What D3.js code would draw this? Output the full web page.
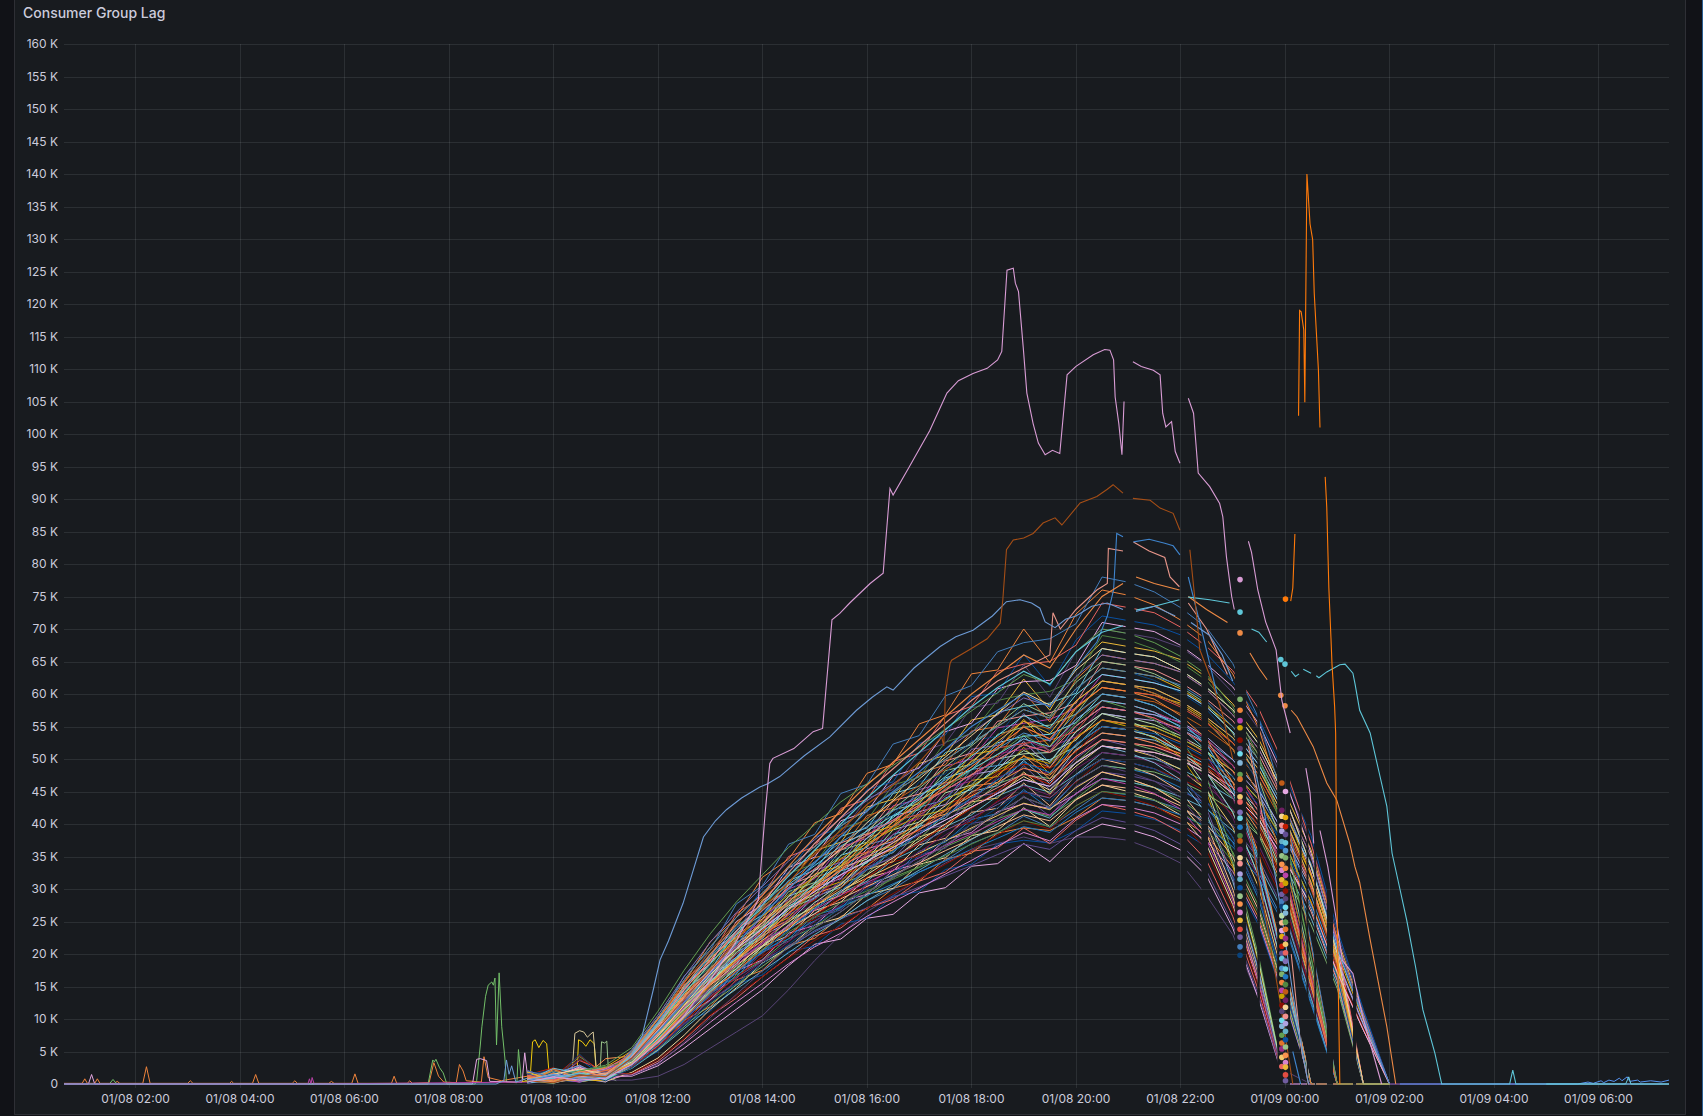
<!DOCTYPE html>
<html><head><meta charset="utf-8">
<script src="https://cdn.jsdelivr.net/npm/d3@7"></script>
<style>
html,body{margin:0;padding:0;background:#111217;}
svg{display:block;}
</style></head><body>
<svg id="chart" width="1703" height="1116"></svg>
<script>
// ---------------- DATA (values in thousands, time in hours since 01/08 00:00) ----------------
const title = "Consumer Group Lag";
const timeDomain = [0.632, 31.35];
const xTickHours = [2,4,6,8,10,12,14,16,18,20,22,24,26,28,30];
const xTickLabels = ["01/08 02:00","01/08 04:00","01/08 06:00","01/08 08:00","01/08 10:00","01/08 12:00","01/08 14:00","01/08 16:00","01/08 18:00","01/08 20:00","01/08 22:00","01/09 00:00","01/09 02:00","01/09 04:00","01/09 06:00"];
const yTickValues = [0,5,10,15,20,25,30,35,40,45,50,55,60,65,70,75,80,85,90,95,100,105,110,115,120,125,130,135,140,145,150,155,160];
const yTickLabels = ["0","5 K","10 K","15 K","20 K","25 K","30 K","35 K","40 K","45 K","50 K","55 K","60 K","65 K","70 K","75 K","80 K","85 K","90 K","95 K","100 K","105 K","110 K","115 K","120 K","125 K","130 K","135 K","140 K","145 K","150 K","155 K","160 K"];

// periods with no samples for the consumer-group bundle
const gapIntervals = [[20.95,21.12],[22.0,22.13],[22.4,22.53],[23.04,23.26],[23.47,23.52],[23.85,24.1],[24.28,24.32],[24.41,24.45],[24.56,24.6],[24.8,24.92],[25.3,25.37]];

const bundleTimes = [9.5,10,10.5,11,11.5,12,12.5,13,13.5,14,14.5,15,15.5,16,16.5,17,17.5,18,18.5,19,19.5,20,20.5,21,21.5,22,22.5,23,23.5,24,24.5,25,25.5,26];
const bundleSeries = [
[0.2,0.8,1.5,0.6,0.6,1.2,3,5.5,8,10.5,14.5,19,23,26.5,29,31.5,34,36,37,38,37,38,38,37.5,36,34,29,23,13,2,0,0,0,0],
[0.5,1.9,0.7,1.2,1.2,2.8,5.5,8.5,11.5,14.5,18.2,21.5,22.3,25.5,26.1,29.4,30.2,33.5,33.9,37,34.2,38.1,40,39.2,38,36,32,24,13,0,0,0,0,0],
[1.1,0.3,3.8,0.9,3,5,9.4,11.2,15.3,16.8,20.4,21.2,24.6,25.5,28.9,29.6,33,33.8,36.9,37.5,37.1,39,42,41.6,40.7,39,36.5,32,24.4,12.6,0,0,0,0],
[0.1,1.4,0.5,1.8,1.5,3.5,6.8,10.5,13.2,16.5,19.5,22.8,24,27.1,28.4,31.2,32.6,35.8,36.3,39.4,37,40.6,43,42.1,40.9,38.7,34.4,25.8,14.2,0,0,0,0,0],
[0.8,0.2,1.6,2.3,3.1,5.2,9.8,11.9,16,17.5,21.3,22.4,25.8,26.9,30.1,31.2,34.6,35.5,38.6,39.4,39,41,44,43.6,42.7,40.9,38.3,33.4,25.5,13.2,0,0,0,0],
[1.5,0.6,0.4,1.0,2.7,6.1,9.2,13,15.4,18.6,20.9,23.6,25.4,28.2,30,32.6,34.4,37,38.6,41.2,39.5,42.2,45,44.5,43.6,42.3,40.5,37.3,32.4,24.7,12.6,0,0,0],
[0.3,2.1,1.2,0.4,1.8,4,7.5,11.5,14.8,18.6,21,24.5,25.6,29.2,30.1,33.8,34.8,38.2,39,42.5,39.6,43.8,46,45,43.7,41.4,36.8,27.6,15.2,0,0,0,0,0],
[0.9,0.5,4.2,1.5,3.2,5.9,10.3,12.8,16.8,19,22.4,24.1,27.2,28.9,31.8,33.4,36.5,38.2,40.8,42.2,41.2,43.9,47,46.5,45.6,43.7,40.9,35.7,27.3,14.1,0,0,0,0],
[0.2,1.1,0.8,2.0,2.6,6.6,9.6,13.9,16.2,20.3,22,25.6,26.8,30.4,31.6,35.2,36.3,40.1,40.7,44.3,41.2,45.8,48,47.5,46.6,45.1,43.2,39.8,34.6,26.4,13.4,0,0,0],
[1.3,0.4,1.9,0.8,3.3,5.8,10.6,12.9,17.4,19.1,23.2,24.4,28,29.2,32.9,33.9,37.6,38.7,41.9,43.1,42.4,44.6,48,47,45.6,43.2,38.4,28.8,15.8,0,0,0,0,0],
[0.6,1.7,0.3,1.1,2.8,6.8,9.9,14.2,16.5,20.6,22.3,26,27.1,30.8,32,35.8,37.2,40.7,41.6,45.3,42.3,46.6,49,48.5,47.5,45.6,42.6,37.2,28.4,14.7,0,0,0,0],
[0.4,0.9,3.9,1.6,3.4,6.2,11,13.5,18.1,19.9,24.2,25.3,29.3,30.2,34.2,35.1,39.2,40.3,43.6,44.8,44.1,46.4,50,49.5,48.5,47,45,41.5,36,27.5,14,0,0,0],
[1.0,0.2,0.9,0.5,2.7,7,10.1,14.6,17,21.2,22.8,26.7,28,31.7,32.8,36.8,37.8,41.8,42.4,46.3,42.8,47.6,50,49,47.5,45,40,30,16.5,0,0,0,0,0],
[0.7,1.3,1.8,2.2,3.2,6.4,10.6,14.1,18,20.6,24.3,26.2,29.4,31.2,34.5,36.3,39.6,41.4,44.3,46,44.9,47.6,51,50.5,50,48.5,46.4,43.9,39.8,33.7,25.5,15.3,0,0],
[0.3,1.6,0.5,0.9,2.9,7.2,10.5,15.3,17.7,21.9,23.8,27.6,29,33,34.2,38,39.3,43.4,44,48,44.6,49.5,52,51.5,50.4,48.4,45.2,39.5,30.2,15.6,0,0,0,0],
[1.8,0.7,2.1,1.3,3.5,6.7,11.6,14.4,19.1,21.3,25.4,27.1,30.8,32.3,36.1,37.7,41.5,42.9,46.2,47.6,47,49.4,53,52.5,51.4,49.8,47.7,44,38.2,29.2,14.8,0,0,0],
[0.1,0.6,1.4,0.7,2.9,7.3,10.8,15.4,18.1,22.2,24.1,28,29.4,33.4,34.7,38.9,39.9,44.1,44.8,49,45.3,50.1,53,52,50.4,47.7,42.4,31.8,17.5,0,0,0,0,0],
[0.9,2.0,0.8,1.9,3.6,6.8,11.9,14.7,19.5,21.5,26,27.5,31.5,33,36.8,38.2,42.3,43.6,47.2,48.5,47.8,50.3,54,53.5,52.4,50.2,47,41,31.3,16.2,0,0,0,0],
[0.5,0.3,1.7,0.6,3,7.4,11,15.8,18.5,22.8,24.9,28.8,30.3,34.2,35.6,39.6,40.9,45,45.9,49.8,46.2,51.5,54,53.5,52.9,51.3,49.1,46.4,42.1,35.6,27,16.2,0,0],
[1.2,1.0,4.4,1.4,3.5,6.9,12.1,15,20,22,26.4,28.3,32.1,33.6,37.6,39,43,44.4,48,49.2,48.6,51.1,55,54.5,53.4,51.7,49.5,45.7,39.6,30.3,15.4,0,0,0],
[0.4,1.5,0.6,1.1,3.1,7.5,11.3,16,18.7,23.2,25.2,29.3,30.6,35,36,40.4,41.5,45.8,46.4,50.6,46.9,52.2,55,54.5,53.4,51.2,47.9,41.8,31.9,16.5,0,0,0,0],
[0.8,0.4,1.2,2.4,3.8,7,12.2,15.2,20.3,22.4,27,28.6,32.8,34,38.4,39.6,44,45.3,49,50,49.9,51.9,56,55.4,54.9,53.2,51,48.2,43.7,37,28,16.8,0,0],
[1.6,0.9,0.4,0.8,3.2,7.7,11.4,16.4,18.8,23.7,25.6,29.8,31.1,35.5,36.6,41.2,42.2,46.7,47.3,51.8,47.7,53.4,56,55,53.2,50.4,44.8,33.6,18.5,0,0,0,0,0],
[0.3,1.2,2.3,1.7,3.6,7.1,12.6,15.5,20.7,22.8,27.4,29.1,33.3,34.6,39.1,40.3,44.8,46,50,50.8,51,52.9,57,56.4,55.3,53.6,51.3,47.3,41,31.4,16,0,0,0],
[1.1,0.5,0.9,0.3,3.2,7.8,11.6,16.6,19.2,24,26.3,30.3,31.6,36.2,37.3,41.9,43,47.6,48.3,52.7,48.7,54.2,57,56.4,55.9,54.7,52.4,49,44.5,37.6,30.2,18.8,9.1,0],
[0.6,2.2,1.0,1.3,3.8,7.2,12.8,15.7,21.1,23.1,28,29.5,34,35.1,39.7,40.8,45.5,46.6,50.8,51.5,51.9,53.4,58,57.4,56.3,53.9,50.5,44.1,33.6,17.4,0,0,0,0],
[0.2,0.7,1.5,0.9,3.3,7.9,11.7,16.9,19.5,24.3,26.7,30.9,32.1,36.8,37.9,42.6,43.7,48.4,49,53.6,49.4,55.1,58,57.4,56.8,55.1,52.8,49.9,45.2,38.3,29,17.4,0,0],
[1.4,0.3,3.6,2.0,3.9,7.4,13,16,21.5,23.5,28.4,30,34.6,35.7,40.4,41.5,46.3,47.4,51.7,52.4,52.9,54.2,59,58.4,57.2,55.5,53.1,49,42.5,32.5,16.5,0,0,0],
[0.7,1.8,0.7,1.0,3.4,8.1,12.2,17.4,20.2,25.1,27.6,31.8,33,37.9,39.1,43.9,45,49.8,50.4,55.2,51,56.8,60,59.4,58.8,57,54.6,51.6,46.8,39.6,30,18,0,0],
[0.2,0.6,1.9,2.6,3.9,7.5,13.2,16.2,21.8,23.9,28.9,30.4,35.2,36.4,41.3,42.2,47.1,48.3,52.5,53.5,53.8,55.6,60,59.4,58.2,55.8,52.2,45.6,34.8,18,0,0,0,0],
[1.0,1.3,0.6,0.5,3.5,8.2,12.4,17.6,20.6,25.4,27.9,32.3,33.6,38.5,39.7,44.6,45.8,50.7,51.4,56.1,51.9,57.8,61,60.4,59.8,58.6,56.1,52.5,47.6,40.3,32.3,20.1,9.8,0],
[0.5,0.1,1.3,1.8,4,7.6,13.5,16.5,22.3,24.4,29.6,31,36,37.2,42.2,43.1,48.2,49.2,53.8,54.9,55.2,56.9,62,61.4,60.1,58.3,55.8,51.5,44.6,34.1,17.4,0,0,0],
[1.7,0.8,0.3,1.2,3.5,8.4,12.6,17.9,20.9,25.9,28.4,32.9,34.1,39.1,40.3,45.3,46.4,51.5,52.1,57,52.7,58.9,62,61.4,60.8,58.9,56.4,53.3,48.4,40.9,31,18.6,0,0],
[0.4,2.0,1.1,2.1,4.1,7.8,13.7,16.8,22.6,24.8,30,31.6,36.5,37.8,42.8,43.8,48.9,50,54.8,55.5,56.1,57.8,63,62.4,61.7,60.5,58,54.2,49.1,41.6,33.4,20.8,10.1,0],
[1.2,0.5,4.6,0.7,3.6,8.6,12.9,18.3,21.4,26.6,29.1,33.8,35,40.2,41.3,46.5,47.7,52.8,53.5,58.6,54.2,60.6,64,63.4,62.1,60.2,57.6,53.1,46.1,35.2,17.9,0,0,0],
[0.8,1.4,0.5,1.4,4.2,7.9,14,17.1,23,25.4,30.6,32.1,37.1,38.5,43.6,44.6,49.7,50.9,55.8,56.6,57.1,58.6,65,64.4,63.7,61.8,59.2,55.9,50.7,42.9,32.5,19.5,0,0],
[0.3,0.9,1.7,1.1,3.8,8.8,13.3,18.8,22,27.4,29.9,34.8,36,41.3,42.5,47.8,49.1,54.3,55,60.3,55.7,62.2,66,65.3,64.7,63.4,60.7,56.8,51.5,43.6,35,21.8,10.6,0],
[1.9,0.6,2.2,2.0,4.3,8.1,14.4,17.4,23.6,26,31.3,32.9,38.1,39.4,44.7,45.8,51,52.2,57.2,58.1,58.6,60.1,67,66.3,65.7,63.7,61,57.6,52.3,44.2,33.5,20.1,0,0],
[0.6,1.1,0.4,0.8,3.9,9,13.6,19.4,22.6,28.3,30.8,35.9,37.2,42.6,43.8,49.3,50.6,56,56.8,62.3,57.5,64.2,68,67.3,66.6,65.3,62.6,58.5,53,44.9,36,22.4,10.9,0],
[0.2,1.6,1.4,1.6,4.4,8.3,14.9,17.9,24.4,26.8,32.4,33.9,39.3,40.6,46,47.2,52.6,53.9,59,59.9,60.4,62.2,69,68.3,66.9,64.9,62.1,57.3,49.7,38,19.3,0,0,0],
[1.3,0.4,0.9,0.9,4.1,9.3,14.2,20,23.4,29.3,31.9,37.1,38.4,44,45.3,51,52.4,57.9,58.6,64.5,59.5,66.5,70,69.3,68.6,67.2,64.4,60.2,54.6,46.2,37.1,23.1,11.2,0],
[0.9,2.3,0.7,1.3,4.5,8.6,15.2,18.5,25,27.6,33.3,34.9,40.5,41.9,47.4,48.6,54.2,55.5,60.8,61.9,62.1,64.4,71,70.3,69.6,67.5,64.6,61.1,55.4,46.9,35.5,21.3,0,0],
[0.5,0.8,1.8,2.2,4.2,9.6,14.6,20.6,24.2,30.1,32.6,38,39.4,45.3,46.5,52.4,53.7,59.6,60.1,66.1,61.2,68.3,72,71.3,70.6,69.1,66.2,61.9,56.2,47.5,38.2,23.8,11.5,0],
[1.4,0.7,1.0,1.5,4.6,9,15.8,19.5,26.2,29,35,36.5,42.4,43.8,49.6,50.9,56.7,58.1,63.5,64.6,65,67.5,74,73.3,72.5,70.3,67.3,63.6,57.7,48.8,37,22.2,0,0],
[0.8,1.9,0.6,0.8,4.3,10.2,15.5,21.9,25.6,31.8,34.6,40.2,41.6,47.8,49.2,55.4,56.8,63.1,63.7,70,64.8,72.3,76,75.2,73.7,71.4,68.4,63.1,54.7,41.8,21.3,0,0,0],
[0.4,1.2,2.0,1.1,4.8,9.5,16.6,20.6,27.7,30.5,36.9,38.4,44.7,46.1,52.3,53.6,59.7,61.3,66.5,67.9,68.5,70.8,78,77.2,75.7,73.3,70.2,64.7,56.2,42.9,21.8,0,0,0],
[1.5,0.2,1.1,0.6,3.1,6.9,10.9,14.6,18.2,21.3,24.4,27,29.6,32.2,34.8,37.4,40,42.6,44.7,47.3,45.2,48.9,52,51.5,51,49.9,47.8,44.7,40.6,34.3,27.6,17.2,8.3,0],
[0.7,1.0,2.4,1.9,3.5,7.7,12.4,16.5,20.7,24.2,27.7,30.7,33.6,36.6,39.5,42.5,45.4,48.4,50.7,53.7,51.3,55.5,59,57.8,56,53.1,47.2,35.4,19.5,0,0,0,0,0],
[0.9,2.4,1.1,1.7,3.3,6.6,10.3,13.5,16.4,18.9,21.3,23.4,25.4,27.1,28.7,30.3,32,33.6,35.3,36.9,36.1,39,41,40.2,39,36.9,32.8,24.6,13.5,0,0,0,0,0],
[0.4,1.5,2.9,0.8,1.4,3.2,6.2,9.5,12.6,15.5,18.5,21.1,23.2,25.8,28,30.1,32.3,34.4,36.6,38.7,37.4,40.9,43,42.6,41.7,40,37.4,32.7,24.9,12.9,0,0,0,0],
[1.6,0.5,1.8,2.5,3.5,7,11,14.5,17.6,20.2,22.9,25.1,27.3,29,30.8,32.6,34.3,36.1,37.8,39.6,38.7,41.8,44,43.6,42.7,41.4,39.6,36.5,31.7,24.2,12.3,0,0,0],
[0.2,1.2,0.6,1.4,1.6,3.8,7,10.6,13.6,16.5,19.4,22.1,24.3,27,29.3,31.5,33.8,36,38.3,40.5,39.2,42.8,45,44.1,42.8,40.5,36,27,14.9,0,0,0,0,0],
[1.9,0.8,2.7,1.3,3.7,7.4,11.5,15.2,18.4,21.2,23.9,26.2,28.5,30.4,32.2,34,35.9,37.7,39.6,41.4,40.5,43.7,46,45.5,44.6,42.8,40,35,26.7,13.8,0,0,0,0],
[0.6,2.2,0.4,0.9,2.4,5.2,8.5,11.8,14.6,17.4,20.2,23,25.4,28.2,30.6,32.9,35.3,37.6,40,42.3,40.9,44.7,47,46.5,45.6,44.2,42.3,39,33.8,25.9,13.2,0,0,0],
[1.2,0.3,1.5,2.1,3.8,7.7,12,15.8,19.2,22.1,25,27.4,29.8,31.7,33.6,35.5,37.4,39.4,41.3,43.2,42.2,45.6,48,47,45.6,43.2,38.4,28.8,15.8,0,0,0,0,0],
[0.3,1.8,2.3,0.7,2.5,5.4,8.8,12.3,15.2,18.1,21.1,24,26.5,29.4,31.9,34.3,36.8,39.2,41.7,44.1,42.6,46.6,49,48.5,48,46.6,44.6,42.1,38.2,32.3,24.5,14.7,0,0],
[2.1,0.6,0.9,1.6,4,8,12.5,16.5,20,23,26,28.5,31,33,35,37,39,41,43,45,44,47.5,50,49.5,48.5,46.5,43.5,38,29,15,0,0,0,0],
[0.8,1.4,2.6,1.9,2.6,5.6,9.2,12.8,15.8,18.9,21.9,25,27.5,30.6,33.2,35.7,38.3,40.8,43.4,45.9,44.4,48.5,51,50.5,49.5,47.9,45.9,42.3,36.7,28.1,14.3,0,0,0],
[0.5,0.9,1.9,2.4,4.2,8.3,13,17.2,20.8,23.9,27,29.6,32.2,34.3,36.4,38.5,40.6,42.6,44.7,46.8,45.8,49.4,52,51,49.4,46.8,41.6,31.2,17.2,0,0,0,0,0],
[1.4,2.5,0.7,1.1,2.7,5.8,9.5,13.3,16.4,19.6,22.8,26,28.6,31.8,34.5,37.1,39.8,42.4,45.1,47.7,46.1,50.4,53,52.5,51.9,50.9,48.8,45.6,41.3,35,28.1,17.5,8.5,0],
[0.7,1.7,0.5,3.9,4.3,8.6,13.5,17.8,21.6,24.8,28.1,30.8,33.5,35.6,37.8,40,42.1,44.3,46.4,48.6,47.5,51.3,54,53.5,52.4,50.8,48.6,44.8,38.9,29.7,15.1,0,0,0],
[1.7,0.4,2.0,0.9,2.8,6.1,9.9,13.8,17.1,20.4,23.7,27,29.7,33,35.8,38.5,41.3,44,46.8,49.5,47.9,52.3,55,54.5,53.4,51.2,47.9,41.8,31.9,16.5,0,0,0,0],
[0.4,2.0,1.3,1.5,4.5,9,14,18.5,22.4,25.8,29.1,31.9,34.7,37,39.2,41.4,43.7,45.9,48.2,50.4,49.3,53.2,56,55.4,54.9,53.2,51,48.2,43.7,37,28,16.8,0,0],
[1.0,1.1,2.2,1.8,2.9,6.3,10.3,14.3,17.7,21.1,24.5,27.9,30.8,34.2,37.1,39.9,42.8,45.6,48.5,51.3,49.6,54.2,57,55.9,54.2,51.3,45.6,34.2,18.8,0,0,0,0,0],
[0.6,0.3,1.6,2.3,4.6,9.3,14.5,19.1,23.2,26.7,30.2,33.1,36,38.3,40.6,42.9,45.2,47.6,49.9,52.2,51,55.1,58,57.4,56.8,55.7,53.4,49.9,45.2,38.3,30.7,19.1,9.3,0],
[2.0,0.9,0.6,1.0,3,6.5,10.6,14.8,18.3,21.8,25.4,28.9,31.9,35.4,38.4,41.3,44.3,47.2,50.2,53.1,51.3,56.1,59,58.4,57.2,55.5,53.1,49,42.5,32.5,16.5,0,0,0],
[0.3,1.6,2.8,1.2,4.8,9.6,15,19.8,24,27.6,31.2,34.2,37.2,39.6,42,44.4,46.8,49.2,51.6,54,52.8,57,60,59.4,58.2,55.8,52.2,45.6,34.8,18,0,0,0,0],
[1.3,0.7,1.2,2.0,3.1,6.7,11,15.3,18.9,22.6,26.2,29.9,32.9,36.6,39.7,42.7,45.8,48.8,51.9,54.9,53.1,58,61,60.4,59.8,58,55.5,52.5,47.6,40.3,30.5,18.3,0,0],
[0.9,2.3,0.8,1.7,5,9.9,15.5,20.5,24.8,28.5,32.2,35.3,38.4,40.9,43.4,45.9,48.4,50.8,53.3,55.8,54.6,58.9,62,61.4,60.1,58.3,55.8,51.5,44.6,34.1,17.4,0,0,0],
[0.5,1.3,2.1,0.6,3.2,6.9,11.3,15.8,19.5,23.3,27.1,30.9,34,37.8,41,44.1,47.3,50.4,53.6,56.7,54.8,59.9,63,62.4,61.7,60.5,58,54.2,49.1,41.6,33.4,20.8,10.1,0],
[1.8,0.5,1.4,2.6,5.1,10.2,16,21.1,25.6,29.4,33.3,36.5,39.7,42.2,44.8,47.4,49.9,52.5,55,57.6,56.3,60.8,64,63.4,62.7,60.8,58.2,55,49.9,42.2,32,19.2,0,0],
[0.2,1.9,1.0,1.3,3.3,7.2,11.7,16.3,20.2,24.1,28,31.9,35.1,39,42.3,45.5,48.8,52,55.3,58.5,56.6,61.8,65,64.4,63.1,61.1,58.5,54,46.8,35.8,18.2,0,0,0],
[1.1,0.6,2.4,0.8,5.3,10.6,16.5,21.8,26.4,30.4,34.3,37.6,40.9,43.6,46.2,48.8,51.5,54.1,56.8,59.4,58.1,62.7,66,65.3,64.7,63.4,60.7,56.8,51.5,43.6,35,21.8,10.6,0],
[0.7,1.0,0.3,2.2,3.8,7.5,11.8,15.5,18.8,21.6,24.4,26.8,29.1,31,32.9,34.8,36.7,38.5,40.4,42.3,41.4,44.7,47,46.1,44.7,42.3,37.6,28.2,15.5,0,0,0,0,0],
[1.5,2.1,1.4,0.5,2.5,5.5,9,12.5,15.5,18.5,21.5,24.5,27,30,32.5,35,37.5,40,42.5,45,43.5,47.5,50,49.5,48.5,46.5,43.5,38,29,15,0,0,0,0],
[0.3,0.8,2.5,1.6,4.2,8.5,13.3,17.5,21.2,24.4,27.6,30.2,32.9,35,37.1,39.2,41.3,43.5,45.6,47.7,46.6,50.4,53,52.5,51.9,50.4,48.2,45.6,41.3,35,26.5,15.9,0,0],
[1.2,1.6,0.9,2.1,2.8,6.2,10.1,14,17.4,20.7,24.1,27.4,30.2,33.6,36.4,39.2,42,44.8,47.6,50.4,48.7,53.2,56,55.4,54.3,52.6,50.4,46.5,40.3,30.8,15.7,0,0,0],
[0.6,2.4,1.7,0.9,4.7,9.4,14.8,19.5,23.6,27.1,30.7,33.6,36.6,38.9,41.3,43.7,46,48.4,50.7,53.1,51.9,56.1,59,58.4,57.2,54.9,51.3,44.8,34.2,17.7,0,0,0,0],
[1.9,0.4,0.7,1.4,3.1,6.8,11.2,15.5,19.2,22.9,26.7,30.4,33.5,37.2,40.3,43.4,46.5,49.6,52.7,55.8,53.9,58.9,62,61.4,60.8,58.9,56.4,53.3,48.4,40.9,31,18.6,0,0],
[0.4,1.4,2.0,2.7,3.6,7.2,11.3,14.9,18,20.7,23.4,25.7,27.9,29.7,31.5,33.3,35.1,36.9,38.7,40.5,39.6,42.8,45,44.6,43.7,41.9,39.2,34.2,26.1,13.5,0,0,0,0],
[1.6,0.2,1.1,1.9,1.3,3,6.4,10.2,13.8,17.4,21.1,24,26.5,29.4,31.9,34.3,36.8,39.2,41.7,44.1,42.6,46.6,49,48,46.6,44.1,39.2,29.4,16.2,0,0,0,0,0],
[0.8,1.2,2.6,0.7,4.2,8.3,13,17.2,20.8,23.9,27,29.6,32.2,34.3,36.4,38.5,40.6,42.6,44.7,46.8,45.8,49.4,52,51.5,51,49.9,47.8,44.7,40.6,34.3,27.6,17.2,8.3,0],
[0.1,1.9,0.5,1.2,2.8,6.1,9.9,13.8,17.1,20.4,23.7,27,29.7,33,35.8,38.5,41.3,44,46.8,49.5,47.9,52.3,55,54.5,53.9,52.3,50.1,47.3,42.9,36.3,27.5,16.5,0,0],
[1.3,0.6,1.8,2.4,4.6,9.3,14.5,19.1,23.2,26.7,30.2,33.1,36,38.3,40.6,42.9,45.2,47.6,49.9,52.2,51,55.1,58,57.4,56.3,54.5,52.2,48.1,41.8,31.9,16.2,0,0,0],
[0.5,2.2,0.9,1.0,3.1,6.7,11,15.3,18.9,22.6,26.2,29.9,32.9,36.6,39.7,42.7,45.8,48.8,51.9,54.9,53.1,58,61,60.4,59.2,56.7,53.1,46.4,35.4,18.3,0,0,0,0],
[2.0,1.0,1.5,0.8,5.1,10.2,16,21.1,25.6,29.4,33.3,36.5,39.7,42.2,44.8,47.4,49.9,52.5,55,57.6,56.3,60.8,64,63.4,62.7,61.4,58.9,55,49.9,42.2,33.9,21.1,10.2,0],
[0.7,1.5,2.3,1.5,3.4,7.4,12.1,16.8,20.8,24.8,28.8,32.8,36.2,40.2,43.6,46.9,50.3,53.6,57,60.3,58.3,63.7,67,66.3,65.7,63.7,61,57.6,52.3,44.2,33.5,20.1,0,0],
[1.0,0.3,2.0,2.9,5.6,11.2,17.5,23.1,28,32.2,36.4,39.9,43.4,46.2,49,51.8,54.6,57.4,60.2,63,61.6,66.5,70,69.3,67.9,65.8,63,58.1,50.4,38.5,19.6,0,0,0]
];

const pinkLine = [[9.5,0.3],[10,1.1],[10.5,0.6],[11,0.9],[11.5,3],[12,6.5],[12.5,10.5],[13,16],[13.5,22],[13.92,28.3],[14.05,41.6],[14.14,49.3],[14.2,50.1],[14.6,51.6],[14.97,54.2],[15.15,54.7],[15.33,71.4],[15.48,72.4],[15.67,74],[16.06,77],[16.31,78.6],[16.44,91.6],[16.5,90.6],[16.8,94.8],[17.2,100.5],[17.53,106.3],[17.75,108.2],[18.03,109.3],[18.3,110.1],[18.5,111.4],[18.58,112.7],[18.68,125.2],[18.8,125.5],[18.84,123.2],[18.9,121.9],[18.99,113.4],[19.06,106.3],[19.18,101.6],[19.28,98.6],[19.41,96.8],[19.55,97.5],[19.69,97],[19.83,109.1],[20.0,110.4],[20.33,112.2],[20.55,113],[20.65,112.9],[20.72,111.4],[20.75,105.7],[20.82,101.6],[20.88,96.8],[20.92,105],[20.98,null],[21.09,111.1],[21.25,110.4],[21.48,109.8],[21.61,109.1],[21.66,103.2],[21.72,101.1],[21.83,101.9],[21.9,97.3],[21.99,95.5],[22.05,null],[22.15,105.5],[22.25,103.2],[22.34,94],[22.56,91.9],[22.75,89.3],[22.81,87.3],[22.88,81.1],[22.98,75],[23.03,73],[23.08,null],[23.14,77.6],[23.2,null],[23.3,83.5],[23.36,81.8],[23.48,76],[23.63,71.1],[23.83,66.8],[23.94,59],[24.1,54],[24.2,null],[24.4,48.6],[24.48,44.8],[24.55,37],[24.6,null],[24.67,39],[24.82,33.4],[24.95,27],[25.1,19],[25.3,17],[25.5,10],[25.85,0]];

const brownLine = [[9.5,0.5],[10,0.2],[10.5,1.4],[11,1.1],[11.5,4],[12,8.5],[12.5,13],[13,17.5],[13.5,22],[14,27],[14.5,31],[15,35.5],[15.5,39],[16,43],[16.5,46],[17,49.5],[17.43,53.4],[17.47,52],[17.5,60],[17.59,64.7],[17.62,65.2],[18.0,67],[18.3,68.5],[18.55,70.9],[18.6,74.5],[18.67,82.2],[18.8,83.7],[19.0,84],[19.18,84.7],[19.37,86.3],[19.6,87.1],[19.73,86],[20.08,89.4],[20.4,90.4],[20.6,91.5],[20.71,92.2],[20.9,90.9],[21.0,null],[21.09,90.1],[21.42,89.8],[21.61,88.6],[21.86,87.8],[21.99,85.2],[22.08,null],[22.18,82.2],[22.31,71.9],[22.37,66.8],[22.6,62],[22.8,57],[23.0,50],[23.1,null],[23.3,40],[23.6,27],[23.9,13],[24.15,0]];

const blueUpperLine = [[9.5,0.6],[10,1.5],[10.5,0.9],[11,1.3],[11.4,3.2],[11.7,7.5],[11.91,14.5],[12.04,19.1],[12.2,22],[12.48,27.8],[12.87,38],[13.1,40.5],[13.31,42.2],[13.6,44],[13.95,45.7],[14.1,46.2],[14.33,47.3],[14.8,50.5],[15.29,53.4],[15.8,57.5],[16.1,59.5],[16.38,61.1],[16.5,60.6],[16.9,64],[17.4,67.3],[17.7,68.8],[18.03,69.8],[18.4,72],[18.67,74.2],[18.93,74.5],[19.15,74],[19.31,73.2],[19.41,71.1],[19.6,70.2],[19.8,71.5],[20.0,72],[20.3,73.5],[20.6,74],[20.9,73],[21.0,null],[21.15,72.7],[21.5,73.5],[21.9,72],[22.05,null],[22.2,71],[22.56,69],[22.8,66],[23.0,62],[23.1,null],[23.3,53],[23.6,42],[23.9,28],[24.15,14],[24.35,4],[24.45,0]];

const cyanLateLine = [[9.5,0.4],[10,0.9],[10.5,1.7],[11,0.8],[11.5,4.5],[12,9.2],[12.5,14],[13,18.5],[13.5,23],[14,27.5],[14.5,32],[15,36],[15.5,40],[16,44],[16.5,47.5],[17,51],[17.5,54.5],[18,58],[18.5,61],[19,63.5],[19.5,61.5],[20,66.5],[20.5,69.5],[20.9,70.5],[21.0,null],[21.15,72.9],[21.5,73.5],[21.98,74.5],[22.05,null],[22.15,74.9],[22.56,74.5],[22.94,74],[23.0,null],[23.14,72.6],[23.2,null],[23.36,70],[23.5,69.5],[23.65,68],[23.75,null],[23.92,65.3],[23.96,null],[24.0,64.6],[24.05,null],[24.12,63.5],[24.2,62.7],[24.27,63.1],[24.3,null],[24.35,63.8],[24.5,63.2],[24.54,null],[24.6,62.8],[24.65,62.5],[24.8,63.4],[25.05,64.5],[25.15,64.6],[25.3,63.2],[25.34,61.6],[25.43,57.5],[25.63,54],[25.8,48],[25.95,42.7],[26.05,35.5],[26.2,30],[26.33,25.2],[26.5,18],[26.64,11.4],[26.87,4.7],[27.0,0],[28.3,0],[28.36,2.15],[28.42,0],[31.35,0]];

const orangeFallLine = [[9.5,1.1],[10,0.4],[10.5,2],[11,1.2],[11.5,4.8],[12,10],[12.5,15],[13,20],[13.5,24.5],[14,29],[14.5,33.5],[15,38],[15.5,42],[16,46],[16.5,49.5],[17,53],[17.5,56.5],[18,60],[18.5,63],[19,66],[19.5,64],[20,70],[20.5,75],[20.9,77],[21.0,null],[21.15,78],[21.5,77],[21.98,76],[22.05,null],[22.15,75],[22.5,73],[22.9,71],[23.0,null],[23.14,69.4],[23.2,null],[23.33,66.3],[23.5,64],[23.66,62.2],[23.75,null],[23.92,59.8],[23.96,null],[24.0,58.2],[24.05,null],[24.12,57.5],[24.23,56.5],[24.54,51.9],[24.8,46.3],[24.99,43.7],[25.24,37],[25.34,33.4],[25.43,31],[25.63,22.2],[25.95,8.8],[26.12,0]];

const orangeSpikeLine = [[23.96,null],[24.01,74.6],[24.06,null],[24.11,74.3],[24.15,76.3],[24.19,84.6],[24.22,null],[24.26,102.8],[24.28,119],[24.31,118.8],[24.36,116],[24.38,104.9],[24.42,140],[24.48,132.3],[24.53,129.9],[24.56,121.7],[24.6,115.8],[24.64,109.9],[24.67,101],[24.72,null],[24.77,93.4],[24.8,88.7],[24.84,76.3],[24.88,68.7],[24.9,64.6],[24.95,58.1],[24.97,54],[24.98,43],[24.99,31],[25.02,15],[25.05,0]];

const salmonLine = [[9.5,0.9],[10,0.3],[10.5,1.1],[11,1.6],[11.5,4.4],[12,9],[12.5,14.5],[13,19],[13.5,23.5],[14,28],[14.5,32.5],[15,37],[15.5,41],[16,45],[16.5,48.5],[17,52],[17.5,55.5],[18,59],[18.5,62],[19,64],[19.5,66],[19.56,72.5],[19.7,70],[20,73],[20.4,76],[20.6,77],[20.62,82.4],[20.9,82],[21.0,null],[21.1,83.4],[21.4,82],[21.7,81],[21.8,78],[21.98,76.5],[22.05,null],[22.15,74],[22.5,70],[22.9,63],[23.0,null],[23.3,52],[23.6,40],[23.75,null],[24.12,20],[24.3,6],[24.45,0]];

const blueSpikeLine = [[9.5,0.5],[10,1.3],[10.5,0.7],[11,1.0],[11.5,3.9],[12,8],[12.5,12.5],[13,17],[13.5,21.5],[14,26],[14.5,30],[15,34],[15.5,38],[16,42],[16.5,45],[17,48],[17.5,51.5],[18,55],[18.5,57.5],[19,60],[19.5,58],[20,64],[20.4,68],[20.6,72],[20.72,76],[20.78,84.7],[20.9,84.2],[21.0,null],[21.1,83.4],[21.4,83.8],[21.7,83.2],[21.86,82.8],[21.99,81.4],[22.05,null],[22.15,78],[22.4,70],[22.7,60],[23.0,null],[23.3,40],[23.6,28],[23.75,null],[24.15,5],[24.3,0]];

// early/late low-level series
const greenEarly = [[0.63,0],[1.5,0],[1.57,0.7],[1.64,0],[7.6,0],[7.69,3.7],[7.72,3.4],[7.75,3.8],[7.82,2.5],[7.89,1.7],[7.96,0],[8.5,0],[8.53,0.5],[8.6,6],[8.63,8.8],[8.7,13.5],[8.75,15.2],[8.82,15.7],[8.85,15.2],[8.88,16.3],[8.91,6],[8.96,17.1],[9.01,8.8],[9.07,4],[9.1,0.3],[9.3,0.2],[9.33,5.3],[9.38,1],[9.5,0.4]];
const orangeEarly = [[0.63,0.1],[0.98,0.1],[1.03,0.8],[1.08,0.1],[1.22,0.1],[1.27,0.8],[1.32,0.1],[1.6,0.1],[1.65,0.4],[1.7,0.1],[2.14,0.1],[2.21,2.66],[2.28,0.1],[3.0,0.1],[3.05,0.5],[3.1,0.1],[3.8,0.1],[3.84,0.4],[3.88,0.1],[4.24,0.1],[4.3,1.46],[4.36,0.1],[5.0,0.1],[5.05,0.5],[5.1,0.1],[5.7,0.1],[5.75,0.4],[5.8,0.1],[6.14,0.1],[6.2,1.56],[6.26,0.1],[6.9,0.1],[6.95,1.2],[7.0,0.1],[7.2,0.1],[7.25,0.5],[7.3,0.1],[7.62,0.2],[7.71,3.3],[7.8,1.2],[7.9,0.3],[8.14,0.2],[8.2,3],[8.27,2],[8.33,0.5],[8.62,0.3],[8.67,4.2],[8.75,1],[9.0,0.5],[9.5,1.2]];
const pinkEarly = [[0.63,0],[1.1,0],[1.16,1.46],[1.22,0],[8.45,0],[8.53,3.8],[8.6,3.9],[8.72,3.6],[8.78,0.4],[9.4,0.3],[9.45,4.8],[9.5,1.5]];
const purpleEarly = [[0.63,0],[5.3,0],[5.33,0.8],[5.36,0],[5.38,1.0],[5.42,0],[9.5,0.3]];
const blueEarly = [[0.63,0],[8.9,0],[9.05,0.5],[9.1,3.7],[9.15,1.5],[9.2,2.8],[9.28,0.3],[9.5,0.9]];
const yellowEarly = [[9.4,0.4],[9.55,0.5],[9.6,6.5],[9.65,6.8],[9.72,5.6],[9.8,6.7],[9.87,6.2],[9.92,1.2],[10.2,1.5],[10.45,1.5],[10.48,6.8],[10.55,6.5],[10.62,5.8],[10.7,6.8],[10.78,6.2],[10.82,1.5],[11.0,0.8]];
const beigeEarly = [[10.0,0.6],[10.35,1.2],[10.41,7.8],[10.5,8.2],[10.58,8],[10.65,7.2],[10.7,7.6],[10.76,8],[10.82,2.4],[11,1]];
const greenLate = [[10.85,0.5],[10.9,3],[10.92,6.5],[10.98,6.3],[11.02,6.6],[11.06,1],[11.2,0.5]];
const blueLate = [[26.2,0],[29.6,0],[29.8,0.3],[29.9,0.1],[30.05,0.5],[30.1,0.2],[30.2,0.6],[30.3,0.4],[30.4,0.9],[30.45,0.5],[30.55,1.1],[30.6,0.4],[30.75,0.6],[30.8,0.3],[31.0,0.5],[31.2,0.3],[31.35,0.6]];
const tealLate = [[29.0,0],[30.52,0],[30.58,1.1],[30.62,0],[31.35,0]];
const purpleLate = [[26.0,0],[31.35,0]];

// single isolated samples (shown as points) in the bundle
const dotColumnTimes = [23.14, 23.94, 24.01];
const dotColumnA = [59.2,57.5,55.9,54.8,52.9,51.6,50.8,49.4,47.6,46.9,45.3,44.2,43.4,41.8,40.9,39.5,38.2,37.4,36.1,34.8,33.9,32.3,31.5,30.2,28.9,27.7,26.4,25.2,23.8,22.6,21.1,19.8];
const dotColumnB = [46.3,42.1,41.2,39.8,38.9,37.3,36.5,35.1,33.8,32.9,31.4,30.6,29.2,28.1,27.3,25.9,24.8,23.6,22.7,21.2,20.1,19.3,17.8,16.9,15.6,14.4,13.5,12.1,11.2,9.8,8.9,7.5,6.3,5.4,4.1,2.7];
const dotColumnC = [45.0,41.0,39.6,38.4,37.1,35.9,34.8,33.2,32.1,30.9,29.7,28.5,27.2,26.3,24.9,23.8,22.4,21.5,20.2,18.9,17.7,16.5,15.3,14.2,12.9,11.8,10.4,9.3,8.1,6.8,5.7,4.4,3.3,2.6,1.4,0.5];

const palette = ["#7EB26D","#EAB839","#6ED0E0","#EF843C","#E24D42","#1F78C1","#BA43A9","#705DA0","#508642","#CCA300","#447EBC","#C15C17","#890F02","#0A437C","#6D1F62","#584477","#B7DBAB","#F4D598","#70DBED","#F9BA8F","#F29191","#82B5D8","#E5A8E2","#AEA2E0","#629E51","#E5AC0E","#64B0C8","#E0752D","#BF1B00","#0A50A1","#962D82","#614D93","#9AC48A","#F2C96D","#65C5DB","#F9934E","#EA6460","#5195CE","#D683CE","#806EB7"];

// ---------------- DRAWING ----------------
const W = 1703, H = 1116;
const plot = {left:64, right:1669, top:44, bottom:1084};
const svg = d3.select("#chart");
const x = d3.scaleLinear().domain(timeDomain).range([plot.left, plot.right]);
const y = d3.scaleLinear().domain([0,160]).range([plot.bottom, plot.top]);
const FONT = "Inter, 'Noto Sans', 'DejaVu Sans', sans-serif";

svg.append("rect").attr("width",W).attr("height",H).attr("fill","#111217");
svg.append("rect").attr("x",14.5).attr("y",-4).attr("width",1671).attr("height",1118.5)
  .attr("fill","#181b1f").attr("stroke","rgba(204,204,220,0.14)").attr("stroke-width",1);
svg.append("rect").attr("x",1702).attr("y",0).attr("width",1).attr("height",H).attr("fill","#2b5f93");

svg.append("text").attr("x",23).attr("y",18).text(title)
  .attr("font-family",FONT).attr("font-size",14).attr("font-weight",500).attr("fill","#ccccdc");

const grid = svg.append("g");
const gridColor = "rgba(240,250,255,0.09)";
yTickValues.forEach(v=>{
  const yy = Math.round(y(v))+0.5;
  grid.append("line").attr("x1",plot.left).attr("x2",plot.right).attr("y1",yy).attr("y2",yy)
    .attr("stroke",gridColor).attr("stroke-width",1);
});
xTickHours.forEach(h=>{
  const xx = Math.round(x(h))+0.5;
  grid.append("line").attr("x1",xx).attr("x2",xx).attr("y1",plot.top).attr("y2",plot.bottom+4)
    .attr("stroke",gridColor).attr("stroke-width",1);
});
const labels = svg.append("g").attr("font-family",FONT).attr("font-size",12).attr("fill","#ccccdc");
yTickValues.forEach((v,i)=>{
  labels.append("text").attr("x",58).attr("y",y(v)+4).attr("text-anchor","end").text(yTickLabels[i]);
});
xTickHours.forEach((h,i)=>{
  labels.append("text").attr("x",x(h)).attr("y",1103).attr("text-anchor","middle").text(xTickLabels[i]);
});

// clip path: everywhere except the no-data gaps
const defs = svg.append("defs");
const clip = defs.append("clipPath").attr("id","gapclip");
let prev = timeDomain[0]-1;
gapIntervals.forEach(g=>{
  clip.append("rect").attr("x",x(prev)).attr("y",30).attr("width",x(g[0])-x(prev)).attr("height",1070);
  prev = g[1];
});
clip.append("rect").attr("x",x(prev)).attr("y",30).attr("width",x(timeDomain[1]+1)-x(prev)).attr("height",1070);

const line = d3.line().defined(d=>d[1]!==null).x(d=>x(d[0])).y(d=>y(d[1]));
const plotClip = defs.append("clipPath").attr("id","plotclip");
plotClip.append("rect").attr("x",plot.left).attr("y",plot.top-10).attr("width",plot.right-plot.left).attr("height",plot.bottom-plot.top+14);

const gAll = svg.append("g").attr("clip-path","url(#plotclip)");

// low-level series
const lowSeries = [
  [orangeEarly,"#EF843C"],[greenEarly,"#73BF69"],[pinkEarly,"#E5A8E2"],[purpleEarly,"#BA43A9"],
  [blueEarly,"#6D9FD6"],[yellowEarly,"#F2CC0C"],[beigeEarly,"#D8C99B"],[greenLate,"#9AC48A"],
  [purpleLate,"#8F5FC4"],[blueLate,"#5794F2"],[tealLate,"#6ED0E0"]
];
const gLow = gAll.append("g");
lowSeries.forEach(s=>{
  gLow.append("path").attr("d",line(s[0])).attr("fill","none").attr("stroke",s[1]).attr("stroke-width",1);
});

// bundle
const gBundle = gAll.append("g").attr("clip-path","url(#gapclip)");
bundleSeries.forEach((vals,i)=>{
  const pts = bundleTimes.map((t,j)=>[t, vals[j]]);
  gBundle.append("path").attr("d",line(pts)).attr("fill","none")
    .attr("stroke",palette[(i*7+15)%palette.length]).attr("stroke-width",1);
});

// outlier series
const special = [
  [salmonLine,"#E8968A"],[blueSpikeLine,"#3F84CC"],[orangeFallLine,"#EE8A45"],
  [cyanLateLine,"#5EC6D8"],[blueUpperLine,"#6D9BD6"],[brownLine,"#A54E16"],
  [pinkLine,"#D99CD5"],[orangeSpikeLine,"#FF7A0A"]
];
const gSpec = gAll.append("g");
special.forEach(s=>{
  const data = s[0];
  gSpec.append("path").attr("d",line(data)).attr("fill","none").attr("stroke",s[1]).attr("stroke-width",1.1);
  data.forEach((d,i)=>{
    if (d[1]===null) return;
    const pn = i===0 || data[i-1][1]===null;
    const nn = i===data.length-1 || data[i+1][1]===null;
    if (pn && nn) gSpec.append("circle").attr("cx",x(d[0])).attr("cy",y(d[1])).attr("r",2.8).attr("fill",s[1]);
  });
});

// isolated bundle samples
const gDots = gAll.append("g");
[dotColumnA, dotColumnB, dotColumnC].forEach((col,k)=>{
  col.forEach((v,j)=>{
    gDots.append("circle").attr("cx",x(dotColumnTimes[k])).attr("cy",y(v)).attr("r",2.8)
      .attr("fill",palette[(j*3+k*11)%palette.length]);
  });
});
</script>
</body></html>
